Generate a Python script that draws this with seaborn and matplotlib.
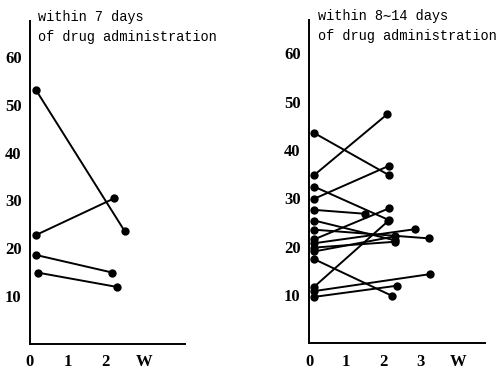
import matplotlib
matplotlib.use("Agg")
import matplotlib.pyplot as plt
import numpy as np
import pandas as pd
import seaborn as sns

# within 7 days of drug administration (weeks, value)
left_start_x = [0.15, 0.17, 0.15, 0.20]
left_start_y = [53.2, 22.8, 18.6, 14.9]
left_end_x = [2.50, 2.21, 2.17, 2.29]
left_end_y = [23.5, 30.4, 14.9, 11.9]

# within 8~14 days of drug administration
right_start_x = [0.14] * 15
right_start_y = [43.5, 34.8, 32.4, 29.9, 27.6, 25.4, 23.5, 21.5,
                 20.7, 19.8, 19.0, 17.4, 11.7, 10.8, 9.6]
right_end_x = [2.14, 2.10, 2.14, 2.14, 1.49, 2.30, 3.22, 2.14,
               2.84, 2.30, 2.30, 2.23, 2.11, 3.24, 2.35]
right_end_y = [34.8, 47.4, 25.5, 36.7, 26.8, 21.3, 21.7, 27.9,
               23.6, 21.0, 22.1, 9.8, 25.2, 14.3, 11.9]

y_ticks = [10, 20, 30, 40, 50, 60]
left_titles = ["within 7 days", "of drug administration"]
right_titles = ["within 8\u223c14 days", "of drug administration"]


def make_frame(sx, sy, ex, ey):
	rows = []
	for i in range(len(sx)):
		rows.append({"patient": i, "week": sx[i], "value": sy[i]})
		rows.append({"patient": i, "week": ex[i], "value": ey[i]})
	return pd.DataFrame(rows)


def draw_panel(ax, df, xmax, ymax, xticks, xlabels, titles, tx):
	sns.lineplot(data=df, x="week", y="value", units="patient", estimator=None,
				 sort=False, color="black", marker="o", markersize=6,
				 markeredgewidth=0, linewidth=1.4, legend=False, ax=ax)
	ax.set_xlim(0, xmax)
	ax.set_ylim(0, ymax)
	ax.set_xlabel("")
	ax.set_ylabel("")
	sns.despine(ax=ax)
	for s in ["left", "bottom"]:
		ax.spines[s].set_color("black")
		ax.spines[s].set_linewidth(1.4)
	ax.set_yticks(y_ticks)
	ax.set_yticklabels([str(t) for t in y_ticks], fontfamily="Liberation Serif",
					   fontweight="bold", fontsize=12)
	ax.set_xticks(xticks)
	ax.set_xticklabels(xlabels, fontfamily="Liberation Serif",
					   fontweight="bold", fontsize=12)
	ax.tick_params(axis="y", direction="out", length=3, width=1, pad=3, colors="black")
	ax.tick_params(axis="x", direction="out", length=2.5, width=1, pad=5, colors="black")
	ax.set_facecolor("white")
	for k, t in enumerate(titles):
		# typewriter-style two-line caption in the top left corner
		ax.text(tx, 1.0 - k * 0.062, t, transform=ax.transAxes, fontsize=9.8,
				family=["Liberation Mono", "DejaVu Sans Mono"],
				ha="left", va="baseline", color="black")


sns.set_style("white")
plt.rcParams["font.family"] = ["Liberation Serif", "DejaVu Serif"]

fig = plt.figure(figsize=(4.98, 3.70), dpi=100)
ax1 = fig.add_axes([0.0602, 0.0708, 0.311, 0.872])
ax2 = fig.add_axes([0.6205, 0.0722, 0.3534, 0.874])

left_df = make_frame(left_start_x, left_start_y, left_end_x, left_end_y)
right_df = make_frame(right_start_x, right_start_y, right_end_x, right_end_y)

draw_panel(ax1, left_df, 4.08, 67.5, [0, 1, 2, 3], ["0", "1", "2", "W"], left_titles, 0.055)
draw_panel(ax2, right_df, 4.72, 66.9, [0, 1, 2, 3, 4], ["0", "1", "2", "3", "W"], right_titles, 0.05)

fig.savefig("out.png", dpi=100, facecolor="white")
